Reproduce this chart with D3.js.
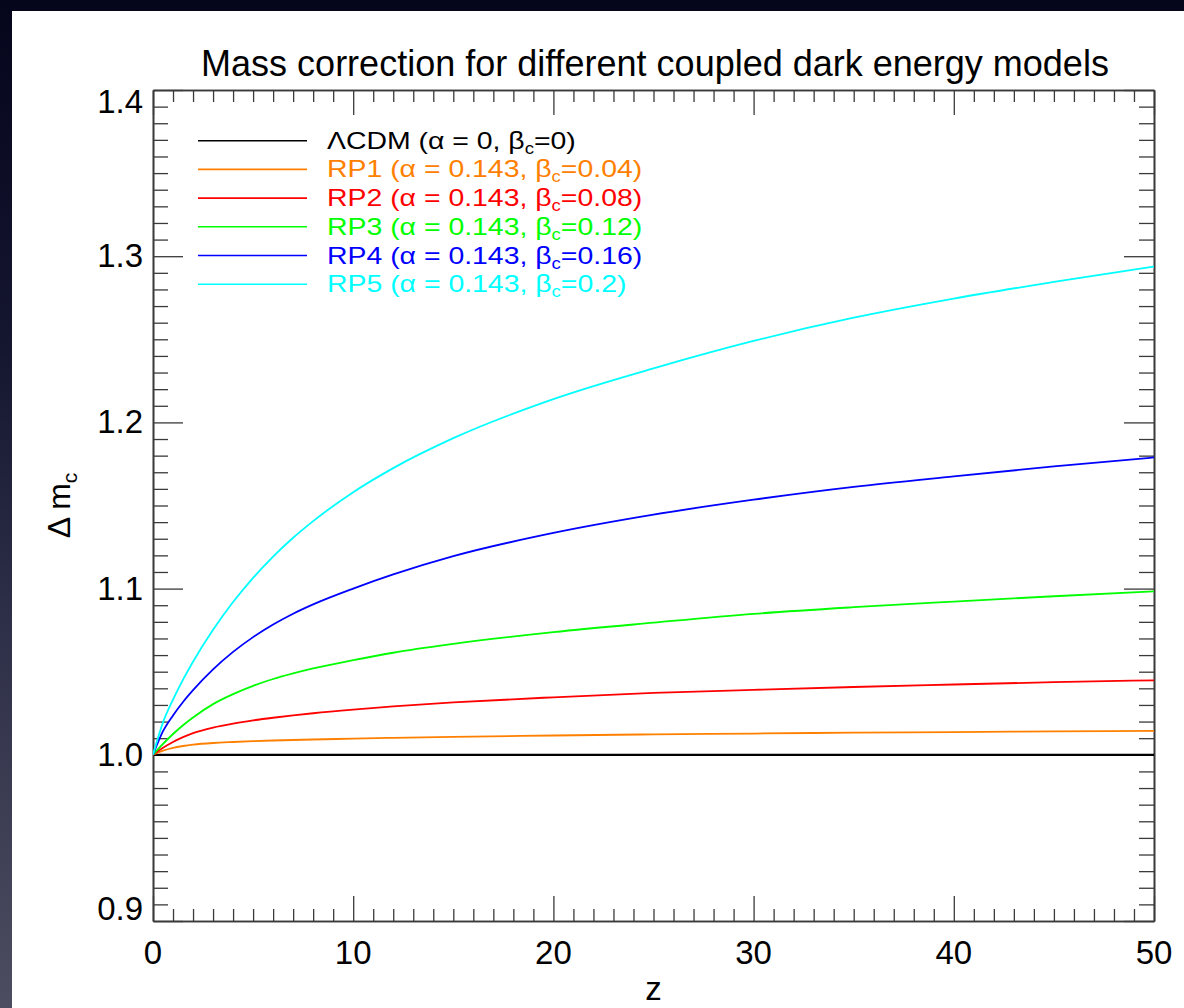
<!DOCTYPE html>
<html>
<head>
<meta charset="utf-8">
<script src="https://cdn.jsdelivr.net/npm/d3@7"></script>
<style>
  html, body { margin: 0; padding: 0; }
  body { width: 1184px; height: 1008px; overflow: hidden;
         background: linear-gradient(to bottom, #05051c 0%, #151630 35%, #2c2e47 60%, #4c4d60 100%); }
  svg { display: block; }
  text { font-family: "Liberation Sans", Arial, Helvetica, sans-serif; }
</style>
</head>
<body>
<svg id="chart" width="1184" height="1008"></svg>
<script>
// ---------------- data ----------------
const zValues   = [0, 0.5, 1, 1.5, 2, 3, 4, 5, 6, 7, 8, 10, 12, 15, 20, 25, 30, 35, 40, 45, 50];
const lcdmValues = [1, 1, 1, 1, 1, 1, 1, 1, 1, 1, 1, 1, 1, 1, 1, 1, 1, 1, 1, 1, 1];
const rp1Values = [1, 1.0025, 1.0042, 1.0053, 1.0061, 1.0071, 1.0077, 1.0082, 1.0086, 1.0089, 1.0092, 1.0097, 1.0102, 1.0108, 1.0116, 1.0123, 1.0128, 1.0133, 1.0137, 1.0141, 1.0144];
const rp2Values = [1, 1.0042, 1.0077, 1.0106, 1.0130, 1.0164, 1.0188, 1.0207, 1.0223, 1.0237, 1.0250, 1.0272, 1.0291, 1.0315, 1.0346, 1.0372, 1.0391, 1.0408, 1.0423, 1.0437, 1.0448];
const rp3Values = [1, 1.0065, 1.0125, 1.0178, 1.0225, 1.0305, 1.0365, 1.0415, 1.0456, 1.0490, 1.0520, 1.0569, 1.0614, 1.0667, 1.0738, 1.0795, 1.0848, 1.0888, 1.0922, 1.0954, 1.0983];
const rp4Values = [1, 1.0142, 1.0237, 1.0318, 1.0389, 1.0514, 1.0619, 1.0708, 1.0784, 1.0849, 1.0905, 1.1000, 1.1085, 1.1195, 1.1335, 1.1445, 1.1535, 1.1612, 1.1675, 1.1735, 1.1789];
const rp5Values = [1, 1.0195, 1.0332, 1.0452, 1.0560, 1.0752, 1.0919, 1.1065, 1.1193, 1.1306, 1.1406, 1.1580, 1.1725, 1.1905, 1.2140, 1.2325, 1.2490, 1.2630, 1.2745, 1.2845, 1.2938];

const seriesNames = ["ΛCDM", "RP1", "RP2", "RP3", "RP4", "RP5"];
const alphaLabels = ["0", "0.143", "0.143", "0.143", "0.143", "0.143"];
const betaLabels = ["0", "0.04", "0.08", "0.12", "0.16", "0.2"];
const seriesColors = ["#000000", "#ff8000", "#ff0000", "#00ff00", "#0000ff", "#00ffff"];

const xTickLabels = ["0", "10", "20", "30", "40", "50"];
const yTickLabels = ["0.9", "1.0", "1.1", "1.2", "1.3", "1.4"];

const titleText = "Mass correction for different coupled dark energy models";
const xTitle = "z";

// ---------------- layout ----------------
const svg = d3.select("#chart");
const L = 153, R = 1154, T = 90, B = 921;

svg.append("rect").attr("x", 12).attr("y", 11).attr("width", 1184 - 12).attr("height", 1008 - 11).attr("fill", "#ffffff");

const x = d3.scaleLinear().domain([0, 50]).range([L, R]);
const y = d3.scaleLinear().domain([0.9, 1.4]).range([B, T]);

const axisColor = "#3a3a3a";

// ticks
const xMinor = d3.range(0, 51, 1).filter(v => v % 10 !== 0);
const xMajor = xTickLabels.map(Number);
const yMinor = d3.range(0, 51).map(i => +(0.9 + i * 0.01).toFixed(2)).filter(v => Math.round(v * 100) % 10 !== 0);
const yMajor = yTickLabels.map(Number);

function styleAxis(g) {
  g.selectAll("path.domain").attr("stroke", axisColor).attr("stroke-width", 1.6);
  g.selectAll(".tick line").attr("stroke", axisColor).attr("stroke-width", 1.3);
  g.selectAll(".tick text").remove();
}

// bottom
svg.append("g").attr("transform", `translate(0,${B})`)
  .call(d3.axisBottom(x).tickValues(xMinor).tickSize(-12).tickSizeOuter(0)).call(styleAxis);
svg.append("g").attr("transform", `translate(0,${B})`)
  .call(d3.axisBottom(x).tickValues(xMajor).tickSize(-25).tickSizeOuter(0)).call(styleAxis);
// top
svg.append("g").attr("transform", `translate(0,${T})`)
  .call(d3.axisTop(x).tickValues(xMinor).tickSize(-12).tickSizeOuter(0)).call(styleAxis);
svg.append("g").attr("transform", `translate(0,${T})`)
  .call(d3.axisTop(x).tickValues(xMajor).tickSize(-25).tickSizeOuter(0)).call(styleAxis);
// left
svg.append("g").attr("transform", `translate(${L},0)`)
  .call(d3.axisLeft(y).tickValues(yMinor).tickSize(-15).tickSizeOuter(0)).call(styleAxis);
svg.append("g").attr("transform", `translate(${L},0)`)
  .call(d3.axisLeft(y).tickValues(yMajor).tickSize(-30).tickSizeOuter(0)).call(styleAxis);
// right
svg.append("g").attr("transform", `translate(${R},0)`)
  .call(d3.axisRight(y).tickValues(yMinor).tickSize(-15).tickSizeOuter(0)).call(styleAxis);
svg.append("g").attr("transform", `translate(${R},0)`)
  .call(d3.axisRight(y).tickValues(yMajor).tickSize(-30).tickSizeOuter(0)).call(styleAxis);

// tick labels
svg.append("g").selectAll("text").data(xTickLabels).join("text")
  .attr("x", d => x(+d)).attr("y", 964)
  .attr("text-anchor", "middle").attr("font-size", 33).attr("fill", "#000").text(d => d);

const capHalf = 12;
svg.append("g").selectAll("text").data(yTickLabels).join("text")
  .attr("x", L - 10)
  .attr("y", d => Math.min(Math.max(y(+d), T + capHalf), B - capHalf) + capHalf - 1)
  .attr("text-anchor", "end").attr("font-size", 33).attr("fill", "#000").text(d => d);

// title
svg.append("text").attr("x", 655).attr("y", 76).attr("text-anchor", "middle")
  .attr("font-size", 36).attr("fill", "#000").text(titleText);

// x title
svg.append("text").attr("x", x(25)).attr("y", 1000).attr("text-anchor", "middle")
  .attr("font-size", 33).attr("fill", "#000").text(xTitle);

// y title
const yt = svg.append("text").attr("transform", `translate(70,${(T + B) / 2}) rotate(-90)`)
  .attr("text-anchor", "middle").attr("font-size", 32).attr("fill", "#000");
yt.append("tspan").text("Δ m");
yt.append("tspan").attr("font-size", 21).attr("dy", 7).text("c");

// curves
const allSeries = [lcdmValues, rp1Values, rp2Values, rp3Values, rp4Values, rp5Values];
const line = d3.line().x((d, i) => x(zValues[i])).y(d => y(d)).curve(d3.curveMonotoneX);
svg.append("clipPath").attr("id", "clip").append("rect")
  .attr("x", L).attr("y", T).attr("width", R - L).attr("height", B - T);
svg.append("g").attr("clip-path", "url(#clip)").selectAll("path").data(allSeries).join("path")
  .attr("d", d => line(d)).attr("fill", "none")
  .attr("stroke", (d, i) => seriesColors[i])
  .attr("stroke-width", (d, i) => i === 0 ? 2.2 : 1.8);

// legend
const legY0 = 140.7, legDy = 28.7;
const leg = svg.append("g");
seriesNames.forEach((name, i) => {
  const yy = legY0 + i * legDy;
  leg.append("line").attr("x1", 198).attr("x2", 307).attr("y1", yy).attr("y2", yy)
    .attr("stroke", seriesColors[i]).attr("stroke-width", 1.6);
  const t = leg.append("text").attr("transform", `translate(327,${yy + 8}) scale(1.16,1)`)
    .attr("font-size", 24.5).attr("fill", seriesColors[i]);
  t.append("tspan").text(`${name} (α = ${alphaLabels[i]}, β`);
  t.append("tspan").attr("font-size", 16).attr("dy", 5).text("c");
  t.append("tspan").attr("dy", -5).text(`=${betaLabels[i]})`);
});
</script>
</body>
</html>
